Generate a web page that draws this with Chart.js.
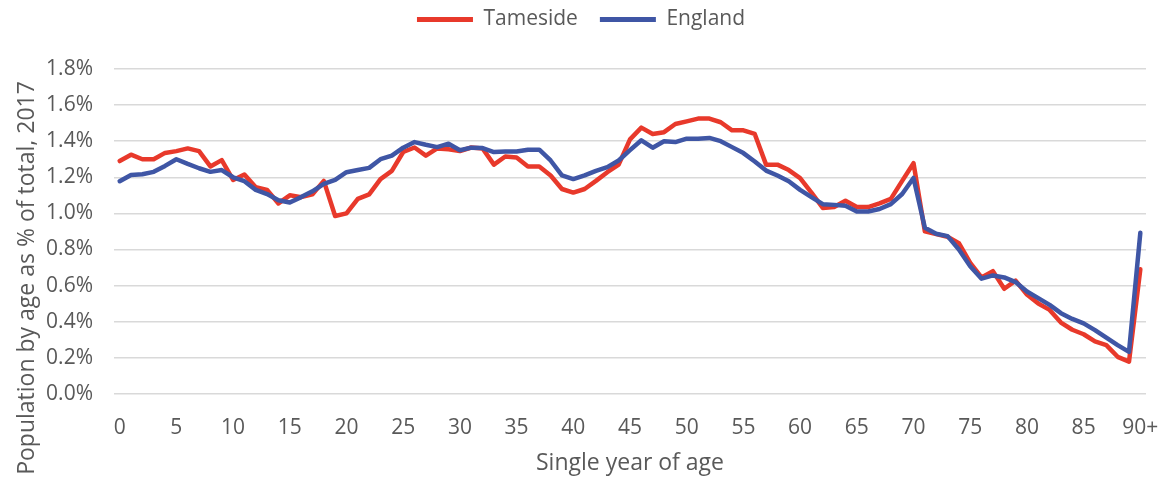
<!DOCTYPE html>
<html>
<head>
<meta charset="utf-8">
<script src="https://cdn.jsdelivr.net/npm/chart.js@4"></script>
<style>
  html, body { margin: 0; padding: 0; background: #fff; }
  #wrap { width: 1162px; height: 480px; }
</style>
</head>
<body>
<div id="wrap"><canvas id="chartIdade"></canvas></div>
<script>
// idades simples, 0 a 89 e depois 90+
const ages = [
  '0','1','2','3','4','5','6','7','8','9',
  '10','11','12','13','14','15','16','17','18','19',
  '20','21','22','23','24','25','26','27','28','29',
  '30','31','32','33','34','35','36','37','38','39',
  '40','41','42','43','44','45','46','47','48','49',
  '50','51','52','53','54','55','56','57','58','59',
  '60','61','62','63','64','65','66','67','68','69',
  '70','71','72','73','74','75','76','77','78','79',
  '80','81','82','83','84','85','86','87','88','89',
  '90+'
];

// % da população total por idade, 2017
const tameside = [
  1.290, 1.325, 1.300, 1.300, 1.335, 1.345, 1.360, 1.345, 1.260, 1.295,
  1.185, 1.215, 1.145, 1.130, 1.055, 1.100, 1.090, 1.105, 1.180, 0.985,
  1.000, 1.080, 1.105, 1.190, 1.235, 1.340, 1.365, 1.320, 1.360, 1.355,
  1.345, 1.365, 1.360, 1.270, 1.315, 1.310, 1.260, 1.260, 1.210, 1.135,
  1.115, 1.135, 1.180, 1.228, 1.270, 1.410, 1.475, 1.440, 1.450, 1.495,
  1.510, 1.525, 1.525, 1.505, 1.460, 1.460, 1.440, 1.270, 1.270, 1.240,
  1.195, 1.115, 1.030, 1.035, 1.070, 1.035, 1.035, 1.055, 1.080, 1.180,
  1.278, 0.900, 0.885, 0.870, 0.835, 0.725, 0.645, 0.680, 0.582, 0.627,
  0.550, 0.500, 0.465, 0.395, 0.355, 0.330, 0.290, 0.270, 0.205, 0.178,
  0.690
];

const england = [
  1.178, 1.213, 1.217, 1.230, 1.263, 1.300, 1.274, 1.250, 1.230, 1.240,
  1.200, 1.178, 1.130, 1.107, 1.073, 1.060, 1.090, 1.122, 1.163, 1.185,
  1.228, 1.240, 1.252, 1.300, 1.320, 1.364, 1.395, 1.380, 1.367, 1.386,
  1.350, 1.364, 1.362, 1.340, 1.343, 1.343, 1.353, 1.353, 1.293, 1.210,
  1.190, 1.210, 1.235, 1.256, 1.293, 1.350, 1.405, 1.364, 1.400, 1.395,
  1.414, 1.414, 1.418, 1.400, 1.367, 1.334, 1.287, 1.237, 1.210, 1.178,
  1.130, 1.090, 1.051, 1.047, 1.042, 1.010, 1.010, 1.024, 1.051, 1.107,
  1.196, 0.920, 0.887, 0.874, 0.800, 0.707, 0.638, 0.656, 0.645, 0.619,
  0.567, 0.530, 0.493, 0.447, 0.415, 0.390, 0.353, 0.311, 0.270, 0.232,
  0.893
];

const TITULO_X = 'Single year of age';
const TITULO_Y = 'Population by age as % of total, 2017';

const FONTE = "'Open Sans', 'DejaVu Sans', sans-serif";
const CINZA = '#595959';

const ctx = document.getElementById('chartIdade').getContext('2d');

// legenda um pouco mais alta, para afastar o gráfico dela
const espacoLegenda = {
  id: 'espacoLegenda',
  beforeInit(chart){
    const fitOriginal = chart.legend.fit;
    chart.legend.fit = function(){
      fitOriginal.call(this);
      this.height += 29;
    };
  }
};

// título do eixo Y desenhado à mão (fica mais abaixo que o centro do eixo)
const tituloY = {
  id: 'tituloY',
  afterDraw(chart){
    const c = chart.ctx;
    c.save();
    c.translate(27, 278);
    c.rotate(-Math.PI / 2);
    c.font = '23px ' + FONTE;
    c.fillStyle = CINZA;
    c.textAlign = 'center';
    c.textBaseline = 'middle';
    c.fillText(TITULO_Y, 0, 0);
    c.restore();
  }
};

function serie(label, data, cor, ordem){
  return {
    label,
    data,
    borderColor: cor,
    backgroundColor: cor,
    borderWidth: 4.5,
    pointRadius: 0,
    pointHoverRadius: 0,
    tension: 0,
    borderJoinStyle: 'round',
    borderCapStyle: 'round',
    order: ordem
  };
}

const chart = new Chart(ctx, {
  type: 'line',
  data: {
    labels: ages,
    datasets: [
      serie('Tameside', tameside, '#e8392b', 2),
      serie('England', england, '#3f56a5', 1)
    ]
  },
  options: {
    responsive: true,
    maintainAspectRatio: false,
    animation: false,
    layout: { padding: { left: 0, right: 0, top: -13, bottom: 0 } },
    plugins: {
      tooltip: { enabled: false },
      legend: {
        position: 'top',
        labels: {
          boxWidth: 56,
          boxHeight: 5,
          padding: 22,
          color: CINZA,
          font: { family: FONTE, size: 21 },
          generateLabels(c){
            const itens = Chart.defaults.plugins.legend.labels.generateLabels(c);
            itens.forEach(it => { it.lineWidth = 0; });
            return itens.sort((a, b) => a.datasetIndex - b.datasetIndex);
          }
        }
      }
    },
    scales: {
      x: {
        offset: true,
        grid: { display: false },
        border: { display: false },
        // margem fixa à direita, em vez da calculada pelo rótulo "90+"
        afterFit(scale){ scale.paddingLeft = 0; scale.paddingRight = 16; },
        ticks: {
          autoSkip: false,
          maxRotation: 0,
          padding: 14,
          color: CINZA,
          font: { family: FONTE, size: 21 },
          callback: (v, i) => (i % 5 === 0 ? ages[i] : null)
        },
        title: {
          display: true,
          text: TITULO_X,
          color: CINZA,
          font: { family: FONTE, size: 23, lineHeight: 1.0 },
          padding: { top: -3, bottom: 5 }
        }
      },
      y: {
        min: 0,
        max: 1.8,
        border: { display: false },
        grid: { color: '#d9d9d9', lineWidth: 1.5, drawTicks: false },
        afterFit(scale){ scale.width = 114; },
        ticks: {
          stepSize: 0.2,
          padding: 21,
          color: CINZA,
          font: { family: FONTE, size: 21 },
          callback: v => v.toFixed(1) + '%'
        }
      }
    }
  },
  plugins: [espacoLegenda, tituloY]
});
</script>
</body>
</html>
